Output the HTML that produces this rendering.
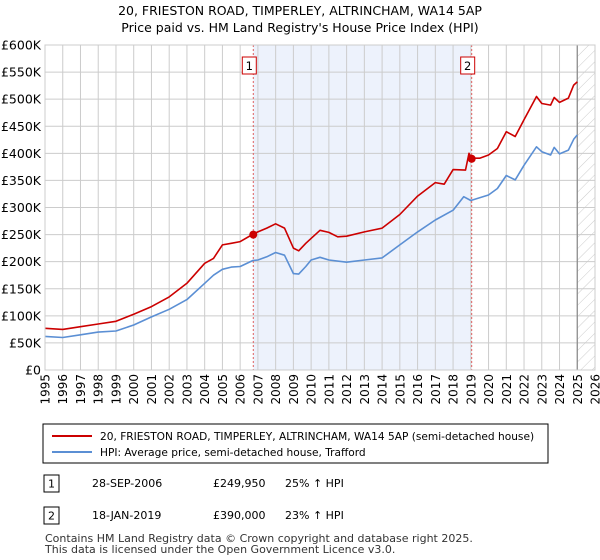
<!DOCTYPE html>
<html><head><meta charset="utf-8"><style>
body{margin:0;background:#fff;font-family:"Liberation Sans","DejaVu Sans",sans-serif;}
svg{display:block}
</style></head><body>
<svg id="chart" width="600" height="560" xmlns="http://www.w3.org/2000/svg" font-family="DejaVu Sans, Liberation Sans, sans-serif">
<defs><pattern id="hatch" width="8" height="8" patternUnits="userSpaceOnUse" patternTransform="rotate(45)"><line x1="0" y1="0" x2="0" y2="8" stroke="#ccc" stroke-width="1"/></pattern></defs>
<text x="300" y="15" text-anchor="middle" font-size="12.5" fill="#000">20, FRIESTON ROAD, TIMPERLEY, ALTRINCHAM, WA14 5AP</text>
<text x="300" y="32" text-anchor="middle" font-size="12.5" fill="#000">Price paid vs. HM Land Registry's House Price Index (HPI)</text>
<g id="plot"></g>
<g>
<rect x="43" y="424" width="505" height="39" fill="#fff" stroke="#000" stroke-width="1"/>
<line x1="52" y1="436" x2="92" y2="436" stroke="#cc0000" stroke-width="2"/>
<text x="100" y="440" font-size="10.6">20, FRIESTON ROAD, TIMPERLEY, ALTRINCHAM, WA14 5AP (semi-detached house)</text>
<line x1="52" y1="452" x2="92" y2="452" stroke="#5b8fd4" stroke-width="2"/>
<text x="100" y="456" font-size="10.6">HPI: Average price, semi-detached house, Trafford</text>
</g>
<g font-size="11">
<rect x="44" y="475" width="15" height="17" fill="#fff" stroke="#000"/><text x="51.5" y="487.5" text-anchor="middle">1</text>
<text x="92" y="487">28-SEP-2006</text>
<text x="213" y="487">£249,950</text>
<text x="285" y="487">25% ↑ HPI</text>
<rect x="44" y="507" width="15" height="17" fill="#fff" stroke="#000"/><text x="51.5" y="519.5" text-anchor="middle">2</text>
<text x="92" y="519">18-JAN-2019</text>
<text x="213" y="519">£390,000</text>
<text x="285" y="519">23% ↑ HPI</text>
</g>
<text x="45" y="542" font-size="11" fill="#333">Contains HM Land Registry data © Crown copyright and database right 2025.</text>
<text x="45" y="553" font-size="11" fill="#333">This data is licensed under the Open Government Licence v3.0.</text>
</svg>
<script>
const yTicks=[0,50,100,150,200,250,300,350,400,450,500,550,600];
const yTickLabels=["£0","£50K","£100K","£150K","£200K","£250K","£300K","£350K","£400K","£450K","£500K","£550K","£600K"];
const xYears=[1995,1996,1997,1998,1999,2000,2001,2002,2003,2004,2005,2006,2007,2008,2009,2010,2011,2012,2013,2014,2015,2016,2017,2018,2019,2020,2021,2022,2023,2024,2025,2026];
const hpiT=[1995,1996,1997,1998,1999,2000,2001,2002,2003,2004,2004.5,2005,2005.5,2006,2006.7,2007,2007.5,2008,2008.5,2009,2009.3,2009.7,2010,2010.5,2011,2012,2013,2014,2015,2016,2017,2018,2018.6,2019,2020,2020.5,2021,2021.5,2022,2022.7,2023,2023.5,2023.7,2024,2024.5,2024.8,2025];
const hpiV=[62,60,65,70,72,83,98,112,130,160,175,186,190,191,202,203,209,217,212,178,177,191,203,208,203,199,203,207,231,255,277,295,320,313,323,335,359,351,378,412,403,397,411,399,406,426,434];
const priceT=[1995,1996,1997,1998,1999,2000,2001,2002,2003,2004,2004.5,2005,2005.5,2006,2006.74,2007,2007.5,2008,2008.5,2009,2009.3,2009.7,2010,2010.5,2011,2011.5,2012,2013,2014,2015,2016,2017,2017.5,2018,2018.7,2018.9,2019.05,2019.5,2020,2020.5,2021,2021.5,2022,2022.7,2023,2023.5,2023.7,2024,2024.5,2024.8,2025];
const priceV=[77,75,80,85,90,103,117,135,160,197,206,231,234,237,251,255,262,270,262,225,220,234,243,258,254,246,247,255,262,287,321,346,343,370,369,400,391,391,397,409,440,431,462,505,492,489,503,494,502,526,532];
const saleT=[2006.74,2019.05];
const saleV=[249.95,390];
const saleLabels=["1","2"];
const X0=45,X1=595,Y0=370,Y1=45;
const xs=t=>X0+(t-1995)*(X1-X0)/31;
const ys=v=>Y0-v*(Y0-Y1)/600;
const NS="http://www.w3.org/2000/svg";
const plot=document.getElementById('plot');
function mk(tag,attrs,parent){const e=document.createElementNS(NS,tag);for(const k in attrs)e.setAttribute(k,attrs[k]);(parent||plot).appendChild(e);return e;}
let e;
e=mk('rect',{x:xs(saleT[0]),y:Y1,width:xs(saleT[1])-xs(saleT[0]),height:Y0-Y1,fill:'#eaf0fc',opacity:0.85});


e=mk('rect',{x:xs(2025),y:Y1,width:X1-xs(2025),height:Y0-Y1,fill:'url(#hatch)'});


yTicks.forEach((v,i)=>{
 e=mk('line',{x1:X0,x2:X1,y1:ys(v),y2:ys(v),stroke:'#ccc','stroke-width':1});
 
 
 e=mk('text',{x:X0-4,y:ys(v)+4.5,'text-anchor':'end','font-size':12.5,fill:'#000'});
 e.textContent=yTickLabels[i];
 
 
});
xYears.forEach(y=>{
 e=mk('line',{x1:xs(y),x2:xs(y),y1:Y1,y2:Y0,stroke:'#ccc','stroke-width':1});
 
 
 e=mk('text',{x:0,y:0,'text-anchor':'end','font-size':12,fill:'#000',transform:`translate(${xs(y)+4.5},${Y0+4}) rotate(-90)`});
 e.textContent=String(y);
 
 
});
e=mk('line',{x1:xs(2025),x2:xs(2025),y1:Y1,y2:Y0,stroke:'#888','stroke-width':1.2});


saleT.forEach((t,i)=>{
 e=mk('line',{x1:xs(t),x2:xs(t),y1:Y1,y2:Y0,stroke:'#e06060','stroke-width':1,'stroke-dasharray':'2,2'});
 
 
});
function path(T,V,col,name){
 const d=T.map((t,i)=>(i?'L':'M')+xs(t).toFixed(1)+','+ys(V[i]).toFixed(1)).join('');
 e=mk('path',{d:d,fill:'none',stroke:col,'stroke-width':1.6,'stroke-linejoin':'round'});
 
 
}
path(hpiT,hpiV,'#5b8fd4','hpi-line');
path(priceT,priceV,'#cc0000','price-paid-line');
saleT.forEach((t,i)=>{
 e=mk('circle',{cx:xs(t),cy:ys(saleV[i]),r:4,fill:'#cc0000'});
 
 
 const bx=xs(t)-4;
 e=mk('rect',{x:bx-7,y:57,width:14,height:17,fill:'#fff',stroke:'#cc0000','stroke-width':1});
 
 
 e=mk('text',{x:bx,y:70,'text-anchor':'middle','font-size':11.5,fill:'#000'});
 e.textContent=saleLabels[i];
 
 
});
e=mk('rect',{x:X0,y:Y1,width:X1-X0,height:Y0-Y1,fill:'none',stroke:'#ccc','stroke-width':1});


</script>
</body></html>
